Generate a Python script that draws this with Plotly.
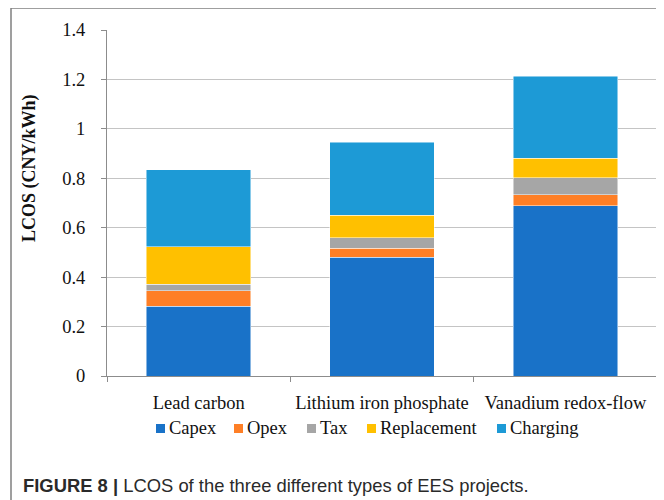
import plotly.graph_objects as go

categories = ["Lead carbon", "Lithium iron phosphate", "Vanadium redox-flow"]
capex = [0.283, 0.480, 0.688]
opex = [0.061, 0.037, 0.046]
tax = [0.028, 0.043, 0.069]
replacement = [0.151, 0.090, 0.078]
charging = [0.311, 0.296, 0.331]

series_names = ["Capex", "Opex", "Tax", "Replacement", "Charging"]
series_values = [capex, opex, tax, replacement, charging]
series_colors = ["#1972C8", "#FE7F26", "#A6A6A6", "#FFC000", "#1D9AD6"]

fig = go.Figure()
for name, vals, col in zip(series_names, series_values, series_colors):
    fig.add_trace(go.Bar(
        x=categories, y=vals, name=name, showlegend=False,
        marker=dict(color=col, line=dict(color="rgba(255,255,255,0.6)", width=0.8)),
    ))

serif = "Liberation Serif, Times New Roman, serif"
sans = "Liberation Sans, Arial, sans-serif"
OFF = 8  # page body margin
W, H = 664 - OFF, 500 - OFF
L, R, T, B = 107 - OFF, 7, 30 - OFF, 124
pw, ph = W - L - R, H - T - B
PL, PB = 107, 376  # plot left / bottom in page pixels


def px(x):
    return (x - PL) / pw


def py(y):
    return (PB - y) / ph


shapes = [
    dict(type="rect", xref="paper", yref="paper",
         x0=px(11), x1=px(661), y0=py(510), y1=py(8),
         line=dict(color="#808080", width=1.5), fillcolor="rgba(0,0,0,0)", layer="below"),
]
annotations = [
    dict(text="<b>LCOS (CNY/kWh)</b>", xref="paper", yref="paper",
         x=px(29), y=py(168), textangle=-90, showarrow=False,
         font=dict(family=serif, size=18, color="#111111"),
         xanchor="center", yanchor="middle"),
    dict(text="<b>FIGURE 8 |</b> LCOS of the three different types of EES projects.",
         xref="paper", yref="paper", x=px(21), y=py(485),
         xanchor="left", yanchor="middle", showarrow=False,
         font=dict(family=sans, size=18.4, color="#2a2a2a")),
]

# legend (square swatch + label)
leg_sq_x = [156, 234, 307, 367, 497]
leg_y = 428
for name, col, sx in zip(series_names, series_colors, leg_sq_x):
    shapes.append(dict(type="rect", xref="paper", yref="paper",
                       x0=px(sx), x1=px(sx + 9), y0=py(leg_y + 5), y1=py(leg_y - 4),
                       fillcolor=col, line=dict(width=0)))
    annotations.append(dict(text=name, xref="paper", yref="paper",
                            x=px(sx + 11), y=py(leg_y), xanchor="left", yanchor="middle",
                            showarrow=False,
                            font=dict(family=serif, size=18.5, color="#111111")))

fig.update_layout(
    width=W, height=H,
    margin=dict(l=L, r=R, t=T, b=B),
    barmode="stack",
    bargap=0.43,
    plot_bgcolor="white",
    paper_bgcolor="white",
    font=dict(family=serif, size=18.5, color="#111111"),
    showlegend=False,
    xaxis=dict(
        showline=True, linecolor="#8c8c8c", linewidth=1,
        ticks="outside", tickson="boundaries", ticklen=5, tickcolor="#8c8c8c",
        tickfont=dict(family=serif, size=18.5, color="#111111"),
        ticklabelstandoff=10,
        showgrid=False,
    ),
    yaxis=dict(
        range=[0, 1.4], dtick=0.2,
        showline=True, linecolor="#8c8c8c", linewidth=1,
        ticks="outside", ticklen=5, tickcolor="#8c8c8c",
        showgrid=True, gridcolor="#c4c4c4", gridwidth=1,
        tickfont=dict(family=serif, size=18.5, color="#111111"),
        ticklabelstandoff=12,
        zeroline=False,
    ),
    shapes=shapes,
    annotations=annotations,
)

fig.write_html("out.html")
